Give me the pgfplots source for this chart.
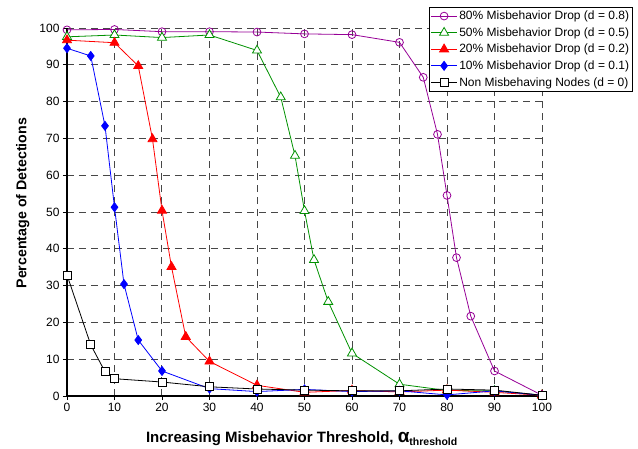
\documentclass[border=0pt]{standalone}
\usepackage{fontspec}
\setmainfont{Liberation Sans}
\usepackage{pgfplots}
\usepackage{pgfplotstable}
\pgfplotsset{compat=1.18}
\definecolor{mypurple}{RGB}{150,0,150}
\definecolor{mygreen}{RGB}{0,145,0}
\definecolor{myred}{RGB}{255,0,0}
\definecolor{myblue}{RGB}{0,0,255}

\pgfplotstableread{
x y
0 99.5
10 99.6
20 99.0
30 99.0
40 98.9
50 98.4
60 98.2
70 96.1
75 86.6
78 71.1
80 54.5
82 37.6
85 21.7
90 6.8
100 0.2
}\purpledata

\pgfplotstableread{
x y
0 97.6
10 98.1
20 97.4
30 98.1
40 93.9
45 81.2
48 65.3
50 50.3
52 37.0
55 25.6
60 11.6
70 3.2
80 1.5
90 1.4
100 0.2
}\greendata

\pgfplotstableread{
x y
0 96.7
10 96.0
15 89.7
18 69.8
20 50.4
22 35.1
25 16.1
30 9.4
40 2.9
50 1.0
60 1.5
70 1.1
80 1.6
90 1.0
100 0.2
}\reddata

\pgfplotstableread{
x y
0 94.5
5 92.4
8 73.4
10 51.3
12 30.4
15 15.2
20 6.8
30 2.0
40 1.2
50 1.8
60 1.2
70 1.4
80 0.3
90 1.4
100 0.2
}\bluedata

\pgfplotstableread{
x y
0 32.9
5 13.9
8 6.6
10 4.7
20 3.8
30 2.5
40 1.9
50 1.6
60 1.4
70 1.4
80 1.9
90 1.6
100 0.2
}\blackdata

\begin{document}
\begin{tikzpicture}
\path[use as bounding box] (-67pt,-52pt) rectangle (571pt,396pt);
\begin{axis}[
  at={(0pt,0pt)}, anchor=south west,
  scale only axis, width=475pt, height=368pt,
  xmin=0, xmax=100, ymin=0, ymax=100, enlargelimits=false,
  clip=false,
  xtick={0,10,...,100}, ytick={0,10,...,100},
  axis x line=bottom, axis y line=left,
  axis line style={-, line width=1.2pt, black},
  tick align=outside, major tick length=4pt,
  tick style={black, line width=0.9pt},
  grid=major,
  grid style={dash pattern=on 7pt off 5pt, line width=1pt, black!72},
  ticklabel style={font=\fontsize{12}{14}\selectfont},
  /pgf/number format/assume math mode=true,
  xlabel={Increasing Misbehavior Threshold, {\fontsize{19}{19}\selectfont α}\raisebox{-2.5pt}{\fontsize{10.5}{10.5}\selectfont threshold}},
  ylabel={Percentage of Detections},
  xlabel style={font=\bfseries\fontsize{15}{17}\selectfont, at={(axis description cs:0.494,-0.117)}, anchor=center},
  ylabel style={font=\bfseries\fontsize{14.2}{16}\selectfont, at={(axis description cs:-0.093,0.524)}, anchor=center},
  legend cell align=left,
  legend style={at={(axis description cs:0.762,1.057)}, anchor=north west,
    draw=black, line width=0.9pt, fill=white,
    font=\fontsize{12}{14}\selectfont, inner sep=1.5pt,
    row sep=2.4pt},
  legend image code/.code={\draw[mark repeat=2,mark phase=2] plot coordinates {(0cm,0cm) (0.45cm,0cm) (0.9cm,0cm)};},
]
\addplot[color=mypurple, line width=0.8pt, mark=o, mark size=3.9pt, mark options={fill=white, line width=0.8pt}] table {\purpledata};
\addlegendentry{80\% Misbehavior Drop (d = 0.8)}
\addplot[color=mygreen, line width=0.8pt, mark=triangle*, mark size=5.2pt, mark options={fill=white, line width=0.8pt}] table {\greendata};
\addlegendentry{50\% Misbehavior Drop (d = 0.5)}
\addplot[color=myred, line width=0.8pt, mark=triangle*, mark size=5.2pt, mark options={fill=myred}] table {\reddata};
\addlegendentry{20\% Misbehavior Drop (d = 0.2)}
\addplot[color=myblue, line width=0.8pt, mark=diamond*, mark size=4.5pt, mark options={fill=myblue}] table {\bluedata};
\addlegendentry{10\% Misbehavior Drop (d = 0.1)}
\addplot[color=black, line width=0.8pt, mark=square*, mark size=4pt, mark options={fill=white, line width=0.8pt}] table {\blackdata};
\addlegendentry{Non Misbehaving Nodes (d = 0)}
\end{axis}
\end{tikzpicture}
\end{document}
